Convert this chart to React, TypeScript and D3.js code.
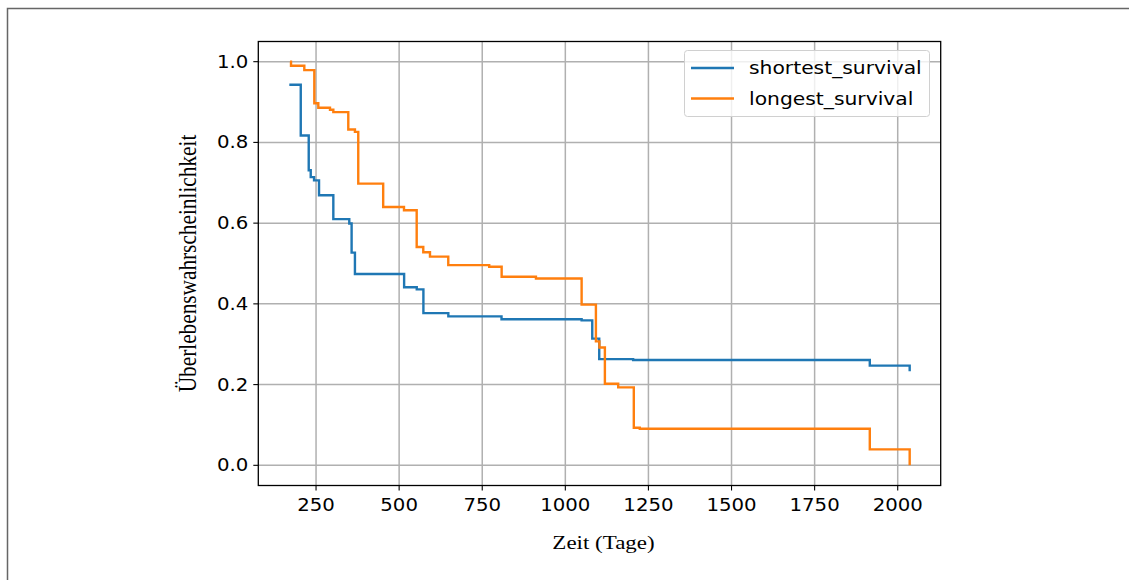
import React from "react";
import * as d3 from "d3";

// Kaplan–Meier estimates: event times (days) and survival probability after each time
const shortestTimes = [169.6, 204, 228, 234, 244, 259, 302, 350, 357, 367, 515, 553, 573, 648, 808, 1049, 1081, 1102, 1204, 1916, 2036];
const shortestSurv = [0.943, 0.817, 0.731, 0.714, 0.706, 0.669, 0.61, 0.599, 0.527, 0.474, 0.441, 0.436, 0.377, 0.369, 0.362, 0.359, 0.314, 0.263, 0.261, 0.247, 0.233];

const longestTimes = [171.7, 174.7, 214.7, 244.8, 256.8, 292, 302, 347, 367, 377, 452, 514.6, 552.8, 572.6, 592.8, 647.8, 771, 808.4, 911.6, 1049, 1092, 1102.5, 1119, 1159, 1206, 1224, 1916, 2036];
const longestSurv = [1.0, 0.99, 0.979, 0.897, 0.886, 0.881, 0.875, 0.832, 0.826, 0.698, 0.64, 0.632, 0.541, 0.528, 0.517, 0.496, 0.492, 0.467, 0.463, 0.398, 0.307, 0.292, 0.202, 0.193, 0.093, 0.0906, 0.0395, 0.0];

const xTicks = [250, 500, 750, 1000, 1250, 1500, 1750, 2000];
const yTicks = [0.0, 0.2, 0.4, 0.6, 0.8, 1.0];

const seriesNames = ["shortest_survival", "longest_survival"];
const seriesColors = ["#1f77b4", "#ff7f0e"];

const W = 1129;
const H = 580;
const left = 258.3;
const right = 940.7;
const top = 41.5;
const bottom = 485.5;
const SX = 1.16; // horizontal glyph stretch of the figure

const tickFont = "'DejaVu Sans', sans-serif";
const labelFont = "'Liberation Serif', 'DejaVu Serif', serif";

function Label(props: { x: number; y: number; anchor?: string; size: number; family: string; children: React.ReactNode }) {
  return (
    <g transform={`translate(${props.x},${props.y}) scale(${SX},1)`}>
      <text x={0} y={0} textAnchor={props.anchor as any} fontFamily={props.family} fontSize={props.size} fill="#000">
        {props.children}
      </text>
    </g>
  );
}

export default function App() {
  const allT = [...shortestTimes, ...longestTimes];
  const tMin = d3.min(allT)!;
  const tMax = d3.max(allT)!;
  const pad = (tMax - tMin) * 0.05;
  const x = d3.scaleLinear().domain([tMin - pad, tMax + pad]).range([left, right]);
  const y = d3.scaleLinear().domain([-0.05, 1.05]).range([bottom, top]);

  const line = d3
    .line<[number, number]>()
    .x((d) => x(d[0]))
    .y((d) => y(d[1]))
    .curve(d3.curveStepAfter);

  const series = [
    { name: seriesNames[0], color: seriesColors[0], pts: shortestTimes.map((t, i) => [t, shortestSurv[i]] as [number, number]) },
    { name: seriesNames[1], color: seriesColors[1], pts: longestTimes.map((t, i) => [t, longestSurv[i]] as [number, number]) },
  ];

  return (
    <svg width={W} height={H} style={{ position: "absolute", left: 0, top: 0, background: "#fff" }}>
      <rect x={7.5} y={8.5} width={W + 10} height={H + 10} fill="#fff" stroke="#666" strokeWidth={1.5} />
      {/* grid */}
      {xTicks.map((t) => (
        <line key={"gx" + t} x1={x(t)} x2={x(t)} y1={top} y2={bottom} stroke="#b0b0b0" strokeWidth={1.5} />
      ))}
      {yTicks.map((t) => (
        <line key={"gy" + t} x1={left} x2={right} y1={y(t)} y2={y(t)} stroke="#b0b0b0" strokeWidth={1.5} />
      ))}
      {/* survival curves */}
      {series.map((s) => (
        <path key={s.name} d={line(s.pts)!} fill="none" stroke={s.color} strokeWidth={2.4} />
      ))}
      {/* frame */}
      <rect x={left} y={top} width={right - left} height={bottom - top} fill="none" stroke="#000" strokeWidth={1.3} />
      {/* x ticks */}
      {xTicks.map((t) => (
        <g key={"xt" + t}>
          <line x1={x(t)} x2={x(t)} y1={bottom} y2={bottom + 5} stroke="#000" strokeWidth={1.1} />
          <Label x={x(t)} y={bottom + 25} anchor="middle" size={17} family={tickFont}>
            {t}
          </Label>
        </g>
      ))}
      {/* y ticks */}
      {yTicks.map((t) => (
        <g key={"yt" + t}>
          <line x1={left - 5} x2={left} y1={y(t)} y2={y(t)} stroke="#000" strokeWidth={1.1} />
          <Label x={left - 10} y={y(t) + 6} anchor="end" size={17} family={tickFont}>
            {t.toFixed(1)}
          </Label>
        </g>
      ))}
      {/* axis labels */}
      <Label x={(left + right) / 2 + 4} y={549} anchor="middle" size={19.8} family={labelFont}>
        Zeit (Tage)
      </Label>
      <g transform={`translate(196, ${(top + bottom) / 2}) scale(${SX},1) rotate(-90)`}>
        <text x={0} y={0} textAnchor="middle" fontFamily={labelFont} fontSize={21.3} fill="#000">
          Überlebenswahrscheinlichkeit
        </text>
      </g>
      {/* legend */}
      <rect x={684.5} y={50.5} width={245} height={66} rx={3} fill="#fff" fillOpacity={0.8} stroke="#d0d0d0" strokeWidth={1} />
      {series.map((s, i) => (
        <g key={"lg" + s.name}>
          <line x1={691} x2={734} y1={68 + i * 30.5} y2={68 + i * 30.5} stroke={s.color} strokeWidth={2.4} />
          <Label x={749} y={74 + i * 30.5} size={17.5} family={tickFont}>
            {s.name}
          </Label>
        </g>
      ))}
    </svg>
  );
}
